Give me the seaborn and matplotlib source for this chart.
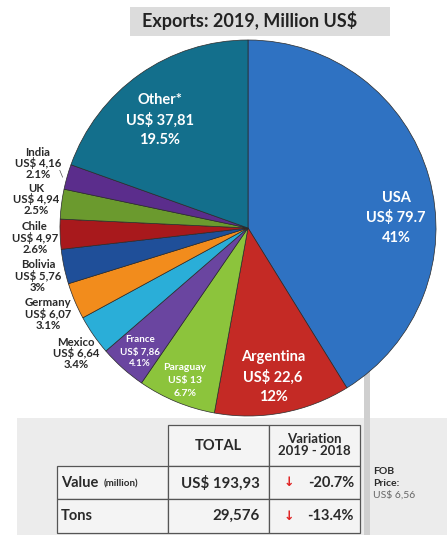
import matplotlib
matplotlib.use("Agg")
import matplotlib.pyplot as plt
from matplotlib.patches import Rectangle
import seaborn as sns

# ---- data ----
countries = ["USA", "Argentina", "Paraguay", "France", "Mexico", "Germany",
             "Bolivia", "Chile", "UK", "India", "Other*"]
values = [79.7, 22.6, 13.0, 7.86, 6.64, 6.07, 5.76, 4.97, 4.94, 4.16, 37.81]
value_labels = ["US$ 79.7", "US$ 22,6", "US$ 13", "US$ 7,86", "US$ 6,64", "US$ 6,07",
                "US$ 5,76", "US$ 4,97", "US$ 4,94", "US$ 4,16", "US$ 37,81"]
pct_labels = ["41%", "12%", "6.7%", "4.1%", "3.4%", "3.1%", "3%", "2.6%", "2.5%",
              "2.1%", "19.5%"]
colors = ["#2f72c2", "#c42a25", "#8cc43c", "#6a45a0", "#2aaed8", "#f28c1c",
          "#1f4f99", "#a8191c", "#6b9a2e", "#5b2d8c", "#136f8c"]

table_cols = ["TOTAL", "Variation\n2019 - 2018"]
table_rows = ["Value", "Tons"]
table_totals = ["US$ 193,93", "29,576"]
table_var = ["-20.7%", "-13.4%"]
title = "Exports: 2019, Million US$"
fob = ["FOB", "Price:", "US$ 6,56"]

sns.set_theme(style="white")
plt.rcParams["font.family"] = ["Lato", "DejaVu Sans"]
pal = sns.color_palette(colors)

W, H = 447, 535
fig = plt.figure(figsize=(W / 100, H / 100), dpi=100)
fig.patch.set_facecolor("white")


def fx(px):
    return px / W


def fy(py):
    return 1 - py / H


def ptext(px, py, s, **kw):
    fig.text(fx(px), fy(py), s, **kw)


# background panel for table and vertical grey line (behind pie)
fig.add_artist(Rectangle((fx(17), fy(535)), fx(447) - fx(17), fy(418) - fy(535),
                         transform=fig.transFigure, facecolor="#ececec",
                         edgecolor="none", zorder=-2))
fig.add_artist(Rectangle((fx(364), fy(535)), fx(370) - fx(364), fy(250) - fy(535),
                         transform=fig.transFigure, facecolor="#cfcfcf",
                         edgecolor="none", zorder=-1))

# title box
fig.add_artist(Rectangle((fx(130), fy(36)), fx(390) - fx(130), fy(7) - fy(36),
                         transform=fig.transFigure, facecolor="#dcdcdc",
                         edgecolor="none", zorder=1))
ptext(250, 21, title, ha="center", va="center", fontsize=13, fontweight="bold",
      color="#222222", zorder=2)

# pie
cx, cy, r = 248, 228, 188
ax = fig.add_axes([fx(cx - r), fy(cy + r), fx(2 * r), (2 * r) / H])
ax.pie(values, colors=pal, startangle=90, counterclock=False,
       wedgeprops=dict(edgecolor="#2a2a2a", linewidth=0.5))
ax.set_xlim(-1.0, 1.0)
ax.set_ylim(-1.0, 1.0)
ax.set_aspect("equal")
ax.axis("off")

# inside labels (white)
inside = {
    "USA": (396, 198, 20, 10.5),
    "Argentina": (273, 357, 20, 10.5),
    "Other*": (160, 100, 20, 10.5),
    "Paraguay": (185, 368, 12.5, 7.5),
    "France": (140, 340, 12, 7),
}
for name, (px, py, step, fs) in inside.items():
    i = countries.index(name)
    for k, s in enumerate([name, value_labels[i], pct_labels[i]]):
        ptext(px, py + k * step, s, ha="center", va="center", fontsize=fs,
              fontweight="bold", color="white", zorder=5)

# outside labels (dark)
outside = {
    "India": (38, 152),
    "UK": (36, 188),
    "Chile": (35, 227),
    "Bolivia": (38, 265),
    "Germany": (48, 303),
    "Mexico": (76, 342),
}
for name, (px, py) in outside.items():
    i = countries.index(name)
    for k, s in enumerate([name, value_labels[i], pct_labels[i]]):
        ptext(px, py + k * 11.3, s, ha="center", va="center", fontsize=8.2,
              fontweight="bold", color="#2a2a2a", zorder=5)
ptext(61, 174, "\\", ha="center", va="center", fontsize=7, color="#444444")

# table
line_kw = dict(transform=fig.transFigure, facecolor="#f4f4f4",
               edgecolor="#555555", linewidth=0.9, zorder=1)
# header cells
fig.add_artist(Rectangle((fx(168), fy(466)), fx(269) - fx(168), fy(425) - fy(466), **line_kw))
fig.add_artist(Rectangle((fx(269), fy(466)), fx(360) - fx(269), fy(425) - fy(466), **line_kw))
# body rows
for top, bot in [(466, 499), (499, 533)]:
    fig.add_artist(Rectangle((fx(57), fy(bot)), fx(168) - fx(57), fy(top) - fy(bot), **line_kw))
    fig.add_artist(Rectangle((fx(168), fy(bot)), fx(269) - fx(168), fy(top) - fy(bot), **line_kw))
    fig.add_artist(Rectangle((fx(269), fy(bot)), fx(360) - fx(269), fy(top) - fy(bot), **line_kw))

ptext(218, 446, table_cols[0], ha="center", va="center", fontsize=10.5,
      fontweight="bold", color="#2a2a2a", zorder=3)
ptext(314, 445, table_cols[1], ha="center", va="center", fontsize=9.5,
      fontweight="bold", color="#2a2a2a", linespacing=1.0, zorder=3)

row_y = [483, 516]
ptext(61, row_y[0], table_rows[0], ha="left", va="center", fontsize=10.5,
      fontweight="bold", color="#2a2a2a", zorder=3)
ptext(104, row_y[0] + 1, "(million)", ha="left", va="center", fontsize=7,
      fontweight="bold", color="#2a2a2a", zorder=3)
ptext(61, row_y[1], table_rows[1], ha="left", va="center", fontsize=10.5,
      fontweight="bold", color="#2a2a2a", zorder=3)
for k in range(2):
    ptext(260, row_y[k], table_totals[k], ha="right", va="center", fontsize=10.8,
          fontweight="bold", color="#2a2a2a", zorder=3)
    ptext(289, row_y[k], "\u2193", ha="center", va="center", fontsize=9,
          fontweight="bold", color="#e02020", family=["DejaVu Sans"], zorder=3)
    ptext(354, row_y[k], table_var[k], ha="right", va="center", fontsize=10.5,
          fontweight="bold", color="#2a2a2a", zorder=3)

# FOB note
ptext(373, 472, fob[0], ha="left", va="center", fontsize=7.5, fontweight="bold", color="#2a2a2a")
ptext(373, 483, fob[1], ha="left", va="center", fontsize=7.5, fontweight="bold", color="#2a2a2a")
ptext(373, 495, fob[2], ha="left", va="center", fontsize=7.5, color="#666666")

fig.savefig("out.png", dpi=100)
